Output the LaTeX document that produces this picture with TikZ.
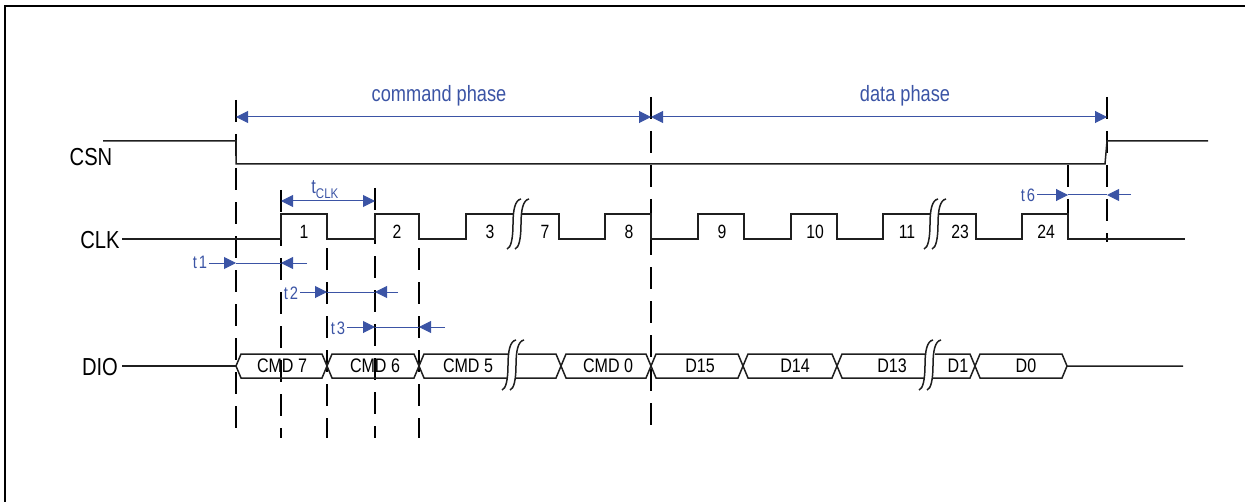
\documentclass[tikz,border=0pt]{standalone}
\usepackage{fontspec}
\setmainfont{Liberation Sans}[FakeStretch=0.82]
\usetikzlibrary{arrows.meta}
\definecolor{annblue}{RGB}{59,84,165}
\tikzset{
  sig/.style={line width=0.75pt, draw=black!88},
  vdash/.style={line width=1.2pt, draw=black, dash pattern=on 11pt off 6pt},
  frame/.style={line width=1.2pt, draw=black},
  ann/.style={draw=annblue, line width=0.5pt},
  onetip/.style={-{Triangle[length=6pt,width=6pt]}},
  twotip/.style={{Triangle[length=6pt,width=6pt]}-{Triangle[length=6pt,width=6pt]}},
  siglbl/.style={font=\fontsize{12.3}{12.3}\selectfont, anchor=base, inner sep=0pt},
  num/.style={font=\fontsize{9.6}{9.6}\selectfont, anchor=base, inner sep=0pt},
  buslbl/.style={font=\fontsize{9.8}{9.8}\selectfont, anchor=base, inner sep=0pt},
  tlab/.style={text=annblue, font=\fontsize{9}{9}\selectfont, anchor=base, inner sep=0pt},
  phase/.style={text=annblue, font=\fontsize{11.1}{11.1}\selectfont, anchor=base, inner sep=0pt},
  brk/.pic={
    \draw[sig] (6,-25) .. controls (0,-24) and (-2,-14) .. (-2,0) .. controls (-2,14) and (-4,24) .. (-8,25);
    \draw[sig] (14,-25) .. controls (8,-24) and (6,-14) .. (6,0) .. controls (6,14) and (4,24) .. (0,25);
  }
}
\begin{document}
\begin{tikzpicture}[x=0.5pt,y=-0.5pt]
\useasboundingbox (0,0) rectangle (1245,502);
% frame
\draw[frame] (5,502) -- (5,6) -- (1245,6);

% dashed guides
\draw[vdash] (236,100) -- (236,438);
\draw[vdash] (281,190) -- (281,438);
\draw[vdash] (327,214) -- (327,438);
\draw[vdash] (375,188) -- (375,438);
\draw[vdash] (419,214) -- (419,438);
\draw[vdash] (651,97) -- (651,436);
\draw[vdash] (1068,165) -- (1068,240);
\draw[vdash] (1107,97) -- (1107,242);

% signal names
\node[siglbl] (csn) at (91,166) {CSN};
\node[siglbl] (clk) at (100,248) {CLK};
\node[siglbl] (dio) at (100,375) {DIO};

% phases
\coordinate (ph0) at (236,117);
\coordinate (ph1) at (651,117);
\coordinate (ph2) at (1107,117);
\draw[ann,twotip] (ph0) -- (ph1);
\draw[ann,twotip] (ph1) -- (ph2);
\node[phase] (cmdphase) at (439,102) {command phase};
\node[phase] (dataphase) at (905,102) {data phase};

% CSN
\draw[sig] (103,141) -- (236,141) -- (236,164) -- (1105,164) -- (1107,141) -- (1208,141);

% CLK
\draw[sig] (122,239) -- (281,239) -- (281,214) -- (327,214) -- (327,239) -- (375,239) -- (375,214)
  -- (419,214) -- (419,239) -- (466,239) -- (466,214) -- (513,214);
\draw[sig] (522,214) -- (559,214) -- (559,239) -- (605,239) -- (605,214) -- (651,214) -- (651,239)
  -- (698,239) -- (698,214) -- (744,214) -- (744,239) -- (791,239) -- (791,214) -- (837,214)
  -- (837,239) -- (883,239) -- (883,214) -- (930,214);
\draw[sig] (939,214) -- (976,214) -- (976,239) -- (1022,239) -- (1022,214) -- (1068,214) -- (1068,239) -- (1185,239);
\pic at (515,224) {brk};
\pic at (932,224) {brk};

\foreach \nm/\x/\t in {p1/304/1, p2/397/2, p3/490/3, p7/545/7, p8/629/8, p9/722/9,
  p10/815/10, p11/907/11, p23/960/23, p24/1046/24}
  \node[num] (\nm) at (\x,238) {\t};

% DIO
\draw[sig] (122,366) -- (236,366);
\draw[sig] (236,366) -- (241,354) -- (322,354) -- (332,378) -- (414,378) -- (424,354) -- (509,354);
\draw[sig] (236,366) -- (241,378) -- (322,378) -- (332,354) -- (414,354) -- (424,378) -- (507,378);
\draw[sig] (518,354) -- (556,354) -- (566,378) -- (646,378) -- (656,354) -- (738,354) -- (748,378) -- (832,378) -- (842,354) -- (926,354);
\draw[sig] (516,378) -- (556,378) -- (566,354) -- (646,354) -- (656,378) -- (738,378) -- (748,354) -- (832,354) -- (842,378) -- (924,378);
\draw[sig] (935,354) -- (970,354) -- (980,378) -- (1062,378) -- (1067,366) -- (1183,366);
\draw[sig] (933,378) -- (970,378) -- (980,354) -- (1062,354) -- (1067,366);
\pic at (510,365) {brk};
\pic at (927,365) {brk};

\foreach \nm/\x/\t in {cmd7/282/CMD 7, cmd6/375/CMD 6, cmd5/468/CMD 5, cmd0/608/CMD 0,
  d15/700/D15, d14/795/D14, d13/892/D13, d1/958/D1, d0/1026/D0}
  \node[buslbl] (\nm) at (\x,372.5) {\t};

% tCLK
\coordinate (tca) at (281,201);
\coordinate (tcb) at (375,201);
\draw[ann,twotip] (tca) -- (tcb);
\node[anchor=base west, inner sep=0pt, text=annblue] (tclk) at (311,193)
  {\fontsize{10}{10}\selectfont t\raisebox{-2.6pt}{\fontsize{7}{7}\selectfont CLK}};

% t1
\node[tlab] (t1) at (200,268) {t\kern0.9pt 1};
\coordinate (t1a) at (236,263);
\coordinate (t1b) at (281,263);
\coordinate (t1c) at (307,263);
\draw[ann,onetip] (t1.east |- t1a) ++(2,0) -- (t1a);
\draw[ann] (t1a) -- (t1b);
\draw[ann,onetip] (t1c) -- (t1b);

% t2
\node[tlab] (t2) at (291,299) {t\kern0.9pt 2};
\coordinate (t2a) at (327,292);
\coordinate (t2b) at (375,292);
\coordinate (t2c) at (398,292);
\draw[ann,onetip] (t2.east |- t2a) ++(2,0) -- (t2a);
\draw[ann] (t2a) -- (t2b);
\draw[ann,onetip] (t2c) -- (t2b);

% t3
\node[tlab] (t3) at (338,334) {t\kern0.9pt 3};
\coordinate (t3a) at (375,327);
\coordinate (t3b) at (419,327);
\coordinate (t3c) at (445,327);
\draw[ann,onetip] (t3.east |- t3a) ++(2,0) -- (t3a);
\draw[ann] (t3a) -- (t3b);
\draw[ann,onetip] (t3c) -- (t3b);

% t6
\node[tlab] (t6) at (1028,201) {t\kern0.9pt 6};
\coordinate (t6a) at (1068,195);
\coordinate (t6b) at (1107,195);
\coordinate (t6c) at (1131,195);
\draw[ann,onetip] (t6.east |- t6a) ++(2,0) -- (t6a);
\draw[ann] (t6a) -- (t6b);
\draw[ann,onetip] (t6c) -- (t6b);
\end{tikzpicture}
\end{document}
